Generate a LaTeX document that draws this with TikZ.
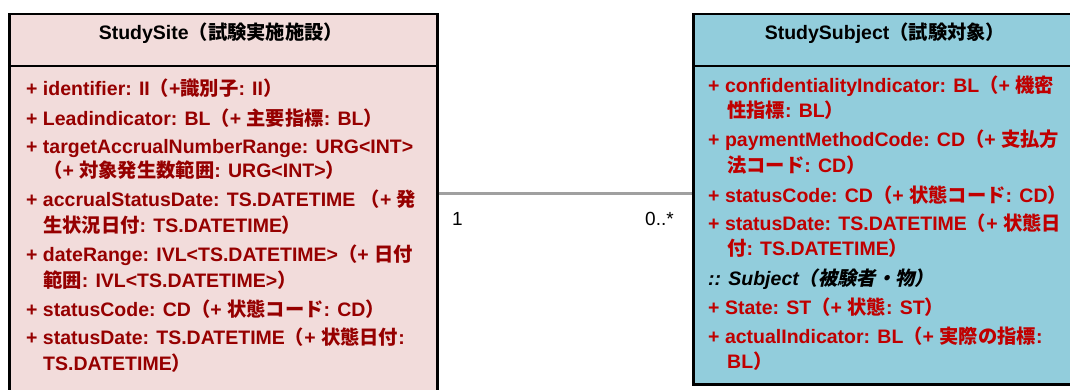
\documentclass[tikz,border=0pt]{standalone}
\usepackage{fontspec}
\setmainfont{Liberation Sans}
\newfontfamily\jfont{Noto Sans CJK JP}[Scale=0.99]
\newfontfamily\jfontsl{Noto Sans CJK JP}[Scale=0.99,FakeSlant=0.2]
\newcommand\J[1]{{\jfont #1}}
\newcommand\JS[1]{{\jfontsl #1}}
\definecolor{sitefill}{RGB}{242,220,219}
\definecolor{sitetext}{RGB}{150,0,0}
\definecolor{subjfill}{RGB}{146,205,220}
\definecolor{subjtext}{RGB}{192,0,0}
\definecolor{connline}{RGB}{160,160,160}
\begin{document}
\begin{tikzpicture}[x=1pt,y=-1pt,
  classbox/.style={draw=black, line width=2.5pt, anchor=north west, inner sep=0},
  hdr/.style={anchor=base, inner sep=0, text=black, font=\fontsize{19.5}{23}\selectfont\bfseries},
  attrsite/.style={anchor=base west, inner sep=0, text=sitetext, font=\fontsize{19.5}{23}\selectfont\bfseries},
  attrsubj/.style={anchor=base west, inner sep=0, text=subjtext, font=\fontsize{19.5}{23}\selectfont\bfseries},
  opsubj/.style={anchor=base west, inner sep=0, text=black, font=\fontsize{19.5}{23}\selectfont\bfseries\itshape},
  mult/.style={anchor=base west, inner sep=0, text=black, font=\fontsize{19}{23}\selectfont},
  divider/.style={draw=black, line width=2.5pt},
  assoc/.style={draw=connline, line width=3pt}]
\useasboundingbox (0,0) rectangle (1070,390);
\fill[white] (0,0) rectangle (1070,390);

% boxes
\node[classbox, fill=sitefill, minimum width=428pt, minimum height=392pt] (site) at (8,13) {};
\node[classbox, fill=subjfill, minimum width=386pt, minimum height=370pt] (subj) at (692,13) {};

% header dividers
\draw[divider] (site.west |- 0,66) -- (site.east |- 0,66);
\draw[divider] (subj.west |- 0,66) -- (subj.east |- 0,66);

% headers
\node[hdr] (siteh) at (221,40) {StudySite\J{（試験実施施設）}};
\node[hdr] (subjh) at (885,40) {StudySubject\J{（試験対象）}};

% association
\coordinate (cy) at (0,193.5);
\draw[assoc] (cy -| site.east) -- (cy -| subj.west);
\node[mult] (m1) at (452,225) {1};
\node[mult] (m2) at (645,225) {0..*};

% StudySite attributes
\node[attrsite] (s1) at (26,96) {+ identifier: II\J{（}+\J{識別子}: II\J{）}};
\node[attrsite] (s2) at (26,126) {+ Leadindicator: BL\J{（}+ \J{主要指標}: BL\J{）}};
\node[attrsite] (s3) at (26,154) {+ targetAccrualNumberRange: URG<INT>};
\node[attrsite] (s3b) at (43,178) {\J{（}+ \J{対象発生数範囲}: URG<INT>\J{）}};
\node[attrsite] (s4) at (26,207) {+ accrualStatusDate: TS.DATETIME \J{（}+ \J{発}};
\node[attrsite] (s4b) at (43,232) {\J{生状況日付}: TS.DATETIME\J{）}};
\node[attrsite] (s5) at (26,261) {+ dateRange: IVL<TS.DATETIME>\J{（}+ \J{日付}};
\node[attrsite] (s5b) at (43,287) {\J{範囲}: IVL<TS.DATETIME>\J{）}};
\node[attrsite] (s6) at (26,316) {+ statusCode: CD\J{（}+ \J{状態コード}: CD\J{）}};
\node[attrsite] (s7) at (26,344) {+ statusDate: TS.DATETIME\J{（}+ \J{状態日付}:};
\node[attrsite] (s7b) at (43,370) {TS.DATETIME\J{）}};

% StudySubject attributes
\node[attrsubj] (t1) at (708,93) {+ confidentialityIndicator: BL\J{（}+ \J{機密}};
\node[attrsubj] (t1b) at (727,118) {\J{性指標}: BL\J{）}};
\node[attrsubj] (t2) at (708,147) {+ paymentMethodCode: CD\J{（}+ \J{支払方}};
\node[attrsubj] (t2b) at (727,173) {\J{法コード}: CD\J{）}};
\node[attrsubj] (t3) at (708,202) {+ statusCode: CD\J{（}+ \J{状態コード}: CD\J{）}};
\node[attrsubj] (t4) at (708,230) {+ statusDate: TS.DATETIME\J{（}+ \J{状態日}};
\node[attrsubj] (t4b) at (727,255) {\J{付}: TS.DATETIME\J{）}};
\node[opsubj] (t5) at (708,285) {:: Subject\JS{（被験者・物）}};
\node[attrsubj] (t6) at (708,314) {+ State: ST\J{（}+ \J{状態}: ST\J{）}};
\node[attrsubj] (t7) at (708,343) {+ actualIndicator: BL\J{（}+ \J{実際の指標}:};
\node[attrsubj] (t7b) at (727,368) {BL\J{）}};
\end{tikzpicture}
\end{document}
